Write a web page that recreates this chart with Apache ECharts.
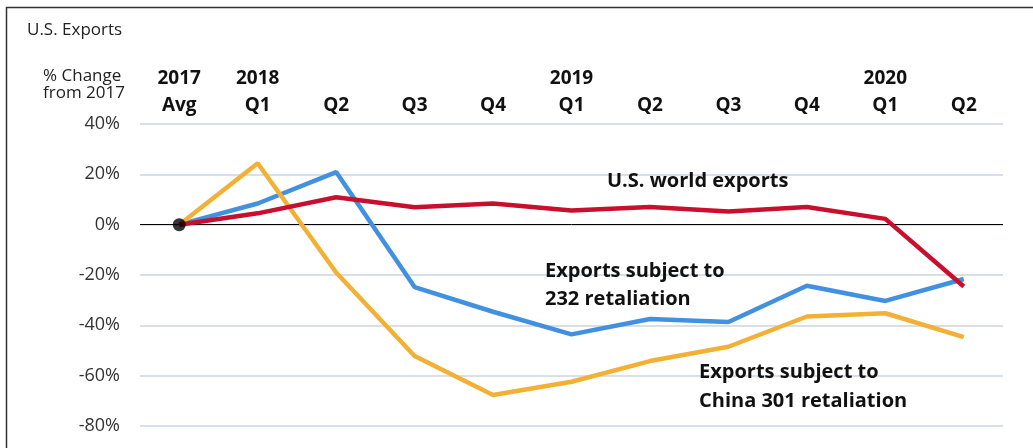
<!DOCTYPE html>
<html>
<head>
<meta charset="utf-8">
<script src="https://cdn.jsdelivr.net/npm/echarts@6/dist/echarts.min.js"></script>
<style>
html,body{margin:0;padding:0;background:#fff;}
#chart{width:1033px;height:448px;}
</style>
</head>
<body>
<div id="chart"></div>
<script>
var years = ['2017', '2018', '', '', '', '2019', '', '', '', '2020', ''];
var quarters = ['Avg', 'Q1', 'Q2', 'Q3', 'Q4', 'Q1', 'Q2', 'Q3', 'Q4', 'Q1', 'Q2'];
var categories = years.map(function (y, i) { return (y || ' ') + '\n' + quarters[i]; });

var worldExports = [0, 4.5, 10.9, 6.9, 8.4, 5.6, 7.0, 5.2, 7.0, 2.3, -24.6];
var retaliation232 = [0, 8.4, 20.9, -24.8, -34.6, -43.6, -37.5, -38.7, -24.3, -30.3, -21.6];
var retaliation301 = [0, 24.4, -19.0, -52.2, -67.7, -62.4, -54.2, -48.5, -36.5, -35.2, -44.7];
var baseDot = [0];

var yTicks = { min: -80, max: 40, interval: 20 };

var FONT = '"Open Sans", Lato, sans-serif';
var chart = echarts.init(document.getElementById('chart'));
chart.setOption({
  animation: false,
  backgroundColor: '#fff',
  grid: { left: 140, right: 30, top: 124, bottom: 22 },
  xAxis: {
    type: 'category',
    position: 'top',
    data: categories,
    boundaryGap: true,
    axisLine: { show: false },
    axisTick: { show: false },
    splitLine: { show: false },
    axisLabel: {
      interval: 0,
      margin: 5,
      color: '#111',
      fontFamily: FONT,
      fontWeight: 'bold',
      fontSize: 19,
      lineHeight: 27
    }
  },
  yAxis: {
    type: 'value',
    min: yTicks.min,
    max: yTicks.max,
    interval: yTicks.interval,
    axisLine: { show: false },
    axisTick: { show: false },
    axisLabel: {
      margin: 20,
      color: '#333',
      fontFamily: FONT,
      fontSize: 18,
      formatter: function (v) { return v + '%'; }
    },
    splitLine: { lineStyle: { color: '#d8dfe6', width: 2 } }
  },
  series: [
    {
      type: 'line', name: 'Exports subject to 232 retaliation', data: retaliation232,
      symbol: 'none', lineStyle: { color: '#4290E0', width: 4.5 }, z: 2,
      markLine: {
        silent: true, symbol: 'none', label: { show: false },
        lineStyle: { color: '#000', width: 1, type: 'solid' },
        data: [{ yAxis: 0 }], z: 1
      }
    },
    {
      type: 'line', name: 'U.S. world exports', data: worldExports,
      symbol: 'none', lineStyle: { color: '#C8102E', width: 4.5 }, z: 3
    },
    {
      type: 'line', name: 'Exports subject to China 301 retaliation', data: retaliation301,
      symbol: 'none', lineStyle: { color: '#F2B134', width: 4.5 }, z: 2
    },
    {
      type: 'scatter', data: baseDot, symbol: 'circle', symbolSize: 13,
      itemStyle: { color: '#000' }, z: 10
    }
  ],
  graphic: [
    { type: 'rect', shape: { x: 6.5, y: 7.5, width: 1100, height: 600 },
      style: { fill: 'none', stroke: '#333', lineWidth: 1.5 }, z: -10 },
    { type: 'text', left: 27, top: 22, z: 100,
      style: { text: 'U.S. Exports', font: '17px ' + FONT, fill: '#222' } },
    { type: 'text', right: 1033 - 125, top: 68, z: 100,
      style: { text: '% Change\nfrom 2017', font: '17px ' + FONT, fill: '#222', align: 'right', lineHeight: 17 } },
    { type: 'text', left: 607, top: 171, z: 100,
      style: { text: 'U.S. world exports', font: 'bold 20px ' + FONT, fill: '#111' } },
    { type: 'text', left: 545, top: 257, z: 100,
      style: { text: 'Exports subject to\n232 retaliation', font: 'bold 20px ' + FONT, fill: '#111', lineHeight: 28 } },
    { type: 'text', left: 699, top: 358, z: 100,
      style: { text: 'Exports subject to\nChina 301 retaliation', font: 'bold 20px ' + FONT, fill: '#111', lineHeight: 29 } }
  ]
});
</script>
</body>
</html>
